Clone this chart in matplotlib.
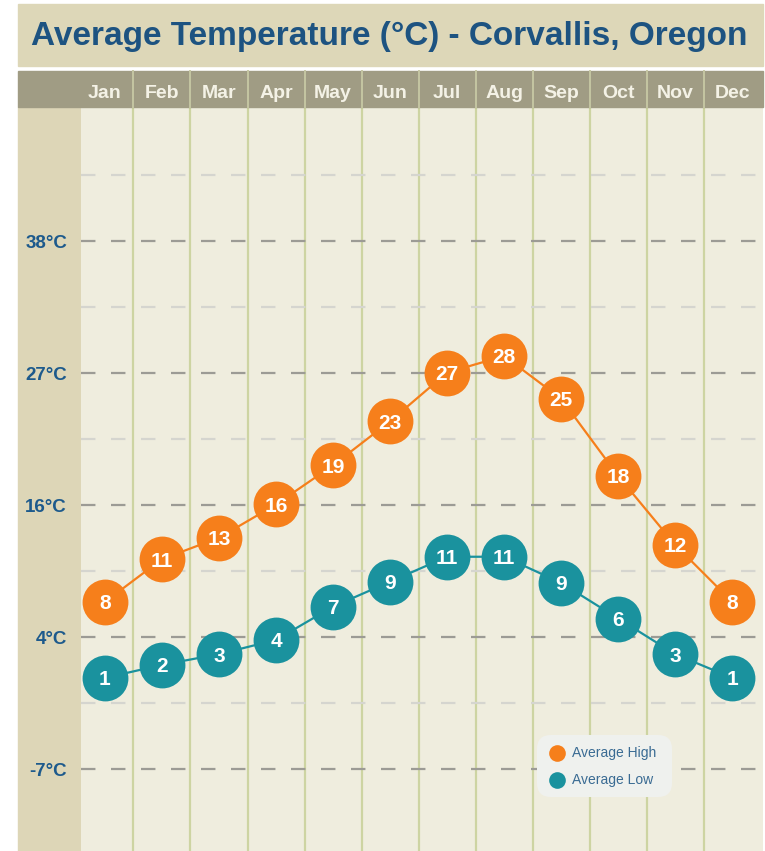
import matplotlib.pyplot as plt
import matplotlib.transforms as mtransforms
from matplotlib.patches import Rectangle, FancyBboxPatch
from matplotlib.lines import Line2D

months = ['Jan', 'Feb', 'Mar', 'Apr', 'May', 'Jun', 'Jul', 'Aug', 'Sep', 'Oct', 'Nov', 'Dec']
# plotted values (degC) and the rounded labels shown in the circles
high = [7.4, 11.0, 12.8, 15.6, 18.9, 22.6, 26.7, 28.1, 24.5, 18.0, 12.2, 7.4]
high_labels = [8, 11, 13, 16, 19, 23, 27, 28, 25, 18, 12, 8]
low = [1.0, 2.1, 3.0, 4.2, 7.0, 9.1, 11.2, 11.2, 9.0, 6.0, 3.0, 1.0]
low_labels = [1, 2, 3, 4, 7, 9, 11, 11, 9, 6, 3, 1]
major_f = [20, 40, 60, 80, 100]
minor_f = [30, 50, 70, 90, 110]
ytick_labels = ['-7°C', '4°C', '16°C', '27°C', '38°C']

plt.rcParams['font.family'] = ['Liberation Sans', 'DejaVu Sans']

ORANGE = '#f67f1b'
TEAL = '#1a929e'
BLUE = '#1d5381'

W, H = 765, 851


def f2c(f):
    return (f - 32) * 5 / 9


def fx(x):
    return x / W


def fy(y):
    return 1 - y / H


fig = plt.figure(figsize=(W / 100, H / 100), dpi=100)
fig.patch.set_facecolor('white')

ax = fig.add_axes([fx(81), 0, fx(763) - fx(81), fy(107)])
ax.set_facecolor('#efedde')
ax.set_xlim(-0.42, 11.54)
ppc = 132 / (f2c(60) - f2c(40))
ax.set_ylim(f2c(40) - (851 - 637) / ppc, f2c(40) + (637 - 107) / ppc)
for s in ax.spines.values():
    s.set_visible(False)
ax.set_xticks([])
ax.set_yticks([f2c(f) for f in major_f])
ax.set_yticklabels(ytick_labels)
ax.tick_params(axis='y', length=0, pad=10, labelcolor='#1d5a8c', labelsize=13.5)
for t in ax.get_yticklabels():
    t.set_fontweight('bold')

# left column
fig.add_artist(Rectangle((fx(18), 0), fx(81) - fx(18), fy(107), transform=fig.transFigure,
                         color='#ddd6b7', zorder=-1))

x = list(range(len(months)))
for i in range(len(months) - 1):
    ax.axvline(i + 0.5, color='#cdd4a2', lw=1.6, zorder=1)
for f in major_f:
    ax.axhline(f2c(f), color='#9c9b95', lw=1.6, dashes=(6.5, 7), zorder=2)
for f in minor_f:
    ax.axhline(f2c(f), color='#d5d5cf', lw=1.6, dashes=(6.5, 7), zorder=2)

for vals, labs, col in [(high, high_labels, ORANGE), (low, low_labels, TEAL)]:
    ax.plot(x, vals, color=col, lw=1.6, zorder=3)
    ax.plot(x, vals, 'o', ms=33, color=col, mec='none', zorder=4)
    for i, v, lab in zip(x, vals, labs):
        ax.text(i, v, str(lab), ha='center', va='center_baseline', color='white',
                fontweight='bold', fontsize=15, zorder=5)

# title box
fig.add_artist(Rectangle((fx(18), fy(66)), fx(763) - fx(18), fy(4) - fy(66),
                         transform=fig.transFigure, color='#ddd7b8', zorder=1))
fig.text(fx(389), fy(36), 'Average Temperature (°C) - Corvallis, Oregon', ha='center', va='center',
         color=BLUE, fontweight='bold', fontsize=24, zorder=2)

# month header
fig.add_artist(Rectangle((fx(18), fy(107)), fx(763) - fx(18), fy(71) - fy(107),
                         transform=fig.transFigure, color='#a09c84', zorder=1))
trans = mtransforms.blended_transform_factory(ax.transData, fig.transFigure)
for i, m in enumerate(months):
    fig.text(i, fy(94), m, transform=trans, ha='center', va='center', color='#f4f2e6',
             fontweight='bold', fontsize=14, zorder=3)
    if i < len(months) - 1:
        fig.add_artist(Line2D([i + 0.5, i + 0.5], [fy(107), fy(71)], transform=trans,
                              color='#c4c6a2', lw=1.4, zorder=2))

# legend
px = mtransforms.IdentityTransform()
fig.add_artist(FancyBboxPatch((537, H - 797), 135, 62, boxstyle='round,pad=0,rounding_size=14',
                              transform=px, fc='#eff1ee', ec='none', zorder=5))
for yy, col, lab in [(753, ORANGE, 'Average High'), (780, TEAL, 'Average Low')]:
    fig.add_artist(Line2D([557], [H - yy], marker='o', ms=12, color=col, mec='none',
                          transform=px, zorder=6))
    fig.text(fx(572), fy(yy), lab, ha='left', va='center', color='#3a6b93', fontsize=10, zorder=6)

fig.savefig('out.png', dpi=100)
